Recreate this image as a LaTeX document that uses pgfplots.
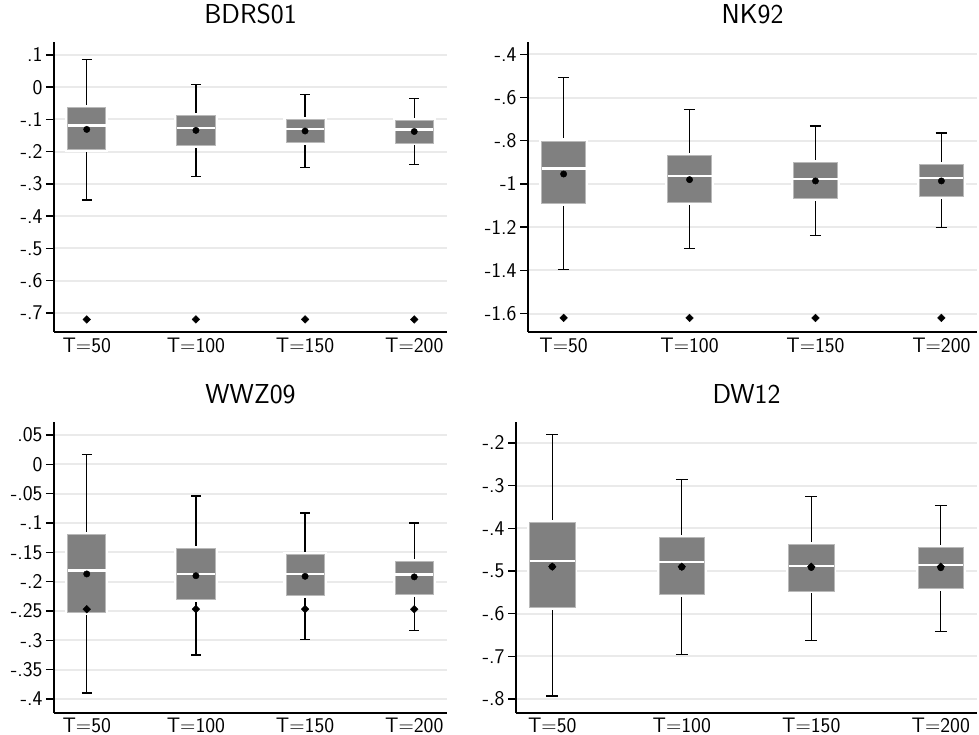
\documentclass[border=0pt]{standalone}
\usepackage{fontspec}
\usepackage{pgfplots}
\pgfplotsset{compat=1.18}
\usepgfplotslibrary{statistics}
\definecolor{boxgray}{RGB}{128,128,128}
\definecolor{gridgray}{RGB}{234,234,234}
\definecolor{edgegray}{RGB}{185,185,185}
\pgfplotsset{
  boxplot/draw direction=y,
  boxplot/draw/.code={%
    \draw[/pgfplots/boxplot/every box/.try]
      (boxplot box cs:\pgfplotsboxplotvalue{lower quartile},0)
      rectangle
      (boxplot box cs:\pgfplotsboxplotvalue{upper quartile},1);
    \draw[/pgfplots/boxplot/every whisker/.try]
      (boxplot box cs:\pgfplotsboxplotvalue{lower quartile},0.5)
      -- (boxplot box cs:\pgfplotsboxplotvalue{lower whisker},0.5)
      (boxplot box cs:\pgfplotsboxplotvalue{upper quartile},0.5)
      -- (boxplot box cs:\pgfplotsboxplotvalue{upper whisker},0.5)
      (boxplot whisker cs:\pgfplotsboxplotvalue{lower whisker},0)
      -- (boxplot whisker cs:\pgfplotsboxplotvalue{lower whisker},1)
      (boxplot whisker cs:\pgfplotsboxplotvalue{upper whisker},0)
      -- (boxplot whisker cs:\pgfplotsboxplotvalue{upper whisker},1);
    \draw[/pgfplots/boxplot/every median/.try]
      (boxplot box cs:\pgfplotsboxplotvalue{median},0)
      -- (boxplot box cs:\pgfplotsboxplotvalue{median},1);
  },
  boxplot/box extend=0.35,
  boxplot/whisker extend=0.09,
  boxplot/every box/.style={fill=boxgray, draw=edgegray, line width=0.8bp,
     preaction={draw=white, line width=5bp}},
  boxplot/every whisker/.style={black, line width=1.2bp},
  boxplot/every median/.style={white, line width=2.5bp},
  panel/.style={
    scale only axis,
    anchor=south west,
    axis x line*=bottom, axis y line*=left,
    axis line style={line width=1.8bp, black, -},
    xtick={1,2,3,4},
    xticklabels={{T=50},{T=100},{T=150},{T=200}},
    x tick style={draw=none},
    y tick style={black, line width=1.4bp},
    major tick length=8bp,
    tick align=outside,
    ymajorgrids,
    major grid style={gridgray, line width=2bp},
    ticklabel style={font=\sffamily\fontsize{21}{24}\selectfont, text=black},
    title style={font=\sffamily\fontsize{27.5}{30}\selectfont, at={(0.5,1)}, anchor=base, yshift=13bp},
    clip=false,
  },
  toprow/.style={xticklabel style={anchor=base, yshift=-12.5bp}},
  lowrow/.style={xticklabel style={anchor=base, yshift=-11bp}},
  meanmk/.style={only marks, mark=*, mark size=3.2bp, black},
  truemk/.style={only marks, mark=square*, mark size=2.7bp, black, mark options={rotate=45}},
}
\begin{document}
\begin{tikzpicture}
\useasboundingbox (0,0) rectangle (979bp,735bp);

% ---------------- BDRS01 ----------------
\begin{axis}[panel, toprow, at={(54bp,403bp)}, width=393bp, height=290bp,
  xmin=0.7, xmax=4.3, ymin=-0.759, ymax=0.14,
  ytick={-0.7,-0.6,-0.5,-0.4,-0.3,-0.2,-0.1,0,0.1},
  yticklabels={-.7,-.6,-.5,-.4,-.3,-.2,-.1,0,.1},
  title={BDRS01}]
\addplot[boxplot prepared={draw position=1, lower whisker=-0.350, lower quartile=-0.193, median=-0.119, upper quartile=-0.064, upper whisker=0.086}] coordinates {};
\addplot[boxplot prepared={draw position=2, lower whisker=-0.276, lower quartile=-0.180, median=-0.126, upper quartile=-0.089, upper whisker=0.007}] coordinates {};
\addplot[boxplot prepared={draw position=3, lower whisker=-0.249, lower quartile=-0.171, median=-0.130, upper quartile=-0.100, upper whisker=-0.024}] coordinates {};
\addplot[boxplot prepared={draw position=4, lower whisker=-0.240, lower quartile=-0.173, median=-0.131, upper quartile=-0.102, upper whisker=-0.034}] coordinates {};
\addplot[truemk] coordinates {(1,-0.72) (2,-0.72) (3,-0.72) (4,-0.72)};
\addplot[meanmk] coordinates {(1,-0.131) (2,-0.134) (3,-0.136) (4,-0.1375)};
\end{axis}

% ---------------- NK92 ----------------
\begin{axis}[panel, toprow, at={(528bp,403bp)}, width=449bp, height=290bp,
  xmin=0.717, xmax=4.283, ymin=-1.685, ymax=-0.343,
  ytick={-1.6,-1.4,-1.2,-1,-0.8,-0.6,-0.4},
  yticklabels={-1.6,-1.4,-1.2,-1,-.8,-.6,-.4},
  title={NK92}]
\addplot[boxplot prepared={draw position=1, lower whisker=-1.396, lower quartile=-1.089, median=-0.929, upper quartile=-0.801, upper whisker=-0.509}] coordinates {};
\addplot[boxplot prepared={draw position=2, lower whisker=-1.300, lower quartile=-1.086, median=-0.963, upper quartile=-0.867, upper whisker=-0.657}] coordinates {};
\addplot[boxplot prepared={draw position=3, lower whisker=-1.240, lower quartile=-1.065, median=-0.978, upper quartile=-0.900, upper whisker=-0.732}] coordinates {};
\addplot[boxplot prepared={draw position=4, lower whisker=-1.203, lower quartile=-1.057, median=-0.972, upper quartile=-0.909, upper whisker=-0.764}] coordinates {};
\addplot[truemk] coordinates {(1,-1.62) (2,-1.62) (3,-1.62) (4,-1.62)};
\addplot[meanmk] coordinates {(1,-0.954) (2,-0.980) (3,-0.986) (4,-0.986)};
\end{axis}

% ---------------- WWZ09 ----------------
\begin{axis}[panel, lowrow, at={(54bp,22bp)}, width=393bp, height=291bp,
  xmin=0.7, xmax=4.3, ymin=-0.424, ymax=0.072,
  ytick={-0.4,-0.35,-0.3,-0.25,-0.2,-0.15,-0.1,-0.05,0,0.05},
  yticklabels={-.4,-.35,-.3,-.25,-.2,-.15,-.1,-.05,0,.05},
  title={WWZ09}]
\addplot[boxplot prepared={draw position=1, lower whisker=-0.390, lower quartile=-0.252, median=-0.181, upper quartile=-0.120, upper whisker=0.016}] coordinates {};
\addplot[boxplot prepared={draw position=2, lower whisker=-0.325, lower quartile=-0.230, median=-0.187, upper quartile=-0.143, upper whisker=-0.054}] coordinates {};
\addplot[boxplot prepared={draw position=3, lower whisker=-0.2985, lower quartile=-0.224, median=-0.187, upper quartile=-0.154, upper whisker=-0.083}] coordinates {};
\addplot[boxplot prepared={draw position=4, lower whisker=-0.284, lower quartile=-0.222, median=-0.188, upper quartile=-0.165, upper whisker=-0.100}] coordinates {};
\addplot[truemk] coordinates {(1,-0.247) (2,-0.247) (3,-0.247) (4,-0.247)};
\addplot[meanmk] coordinates {(1,-0.187) (2,-0.190) (3,-0.191) (4,-0.192)};
\end{axis}

% ---------------- DW12 ----------------
\begin{axis}[panel, lowrow, at={(516bp,22bp)}, width=461bp, height=291bp,
  xmin=0.72, xmax=4.28, ymin=-0.833, ymax=-0.151,
  ytick={-0.8,-0.7,-0.6,-0.5,-0.4,-0.3,-0.2},
  yticklabels={-.8,-.7,-.6,-.5,-.4,-.3,-.2},
  title={DW12}]
\addplot[boxplot prepared={draw position=1, lower whisker=-0.793, lower quartile=-0.585, median=-0.477, upper quartile=-0.387, upper whisker=-0.181}] coordinates {};
\addplot[boxplot prepared={draw position=2, lower whisker=-0.695, lower quartile=-0.555, median=-0.479, upper quartile=-0.4215, upper whisker=-0.285}] coordinates {};
\addplot[boxplot prepared={draw position=3, lower whisker=-0.663, lower quartile=-0.547, median=-0.488, upper quartile=-0.438, upper whisker=-0.325}] coordinates {};
\addplot[boxplot prepared={draw position=4, lower whisker=-0.642, lower quartile=-0.542, median=-0.486, upper quartile=-0.445, upper whisker=-0.346}] coordinates {};
\addplot[truemk] coordinates {(1,-0.49) (2,-0.49) (3,-0.49) (4,-0.49)};
\addplot[meanmk] coordinates {(1,-0.490) (2,-0.491) (3,-0.492) (4,-0.4925)};
\end{axis}
\end{tikzpicture}
\end{document}
